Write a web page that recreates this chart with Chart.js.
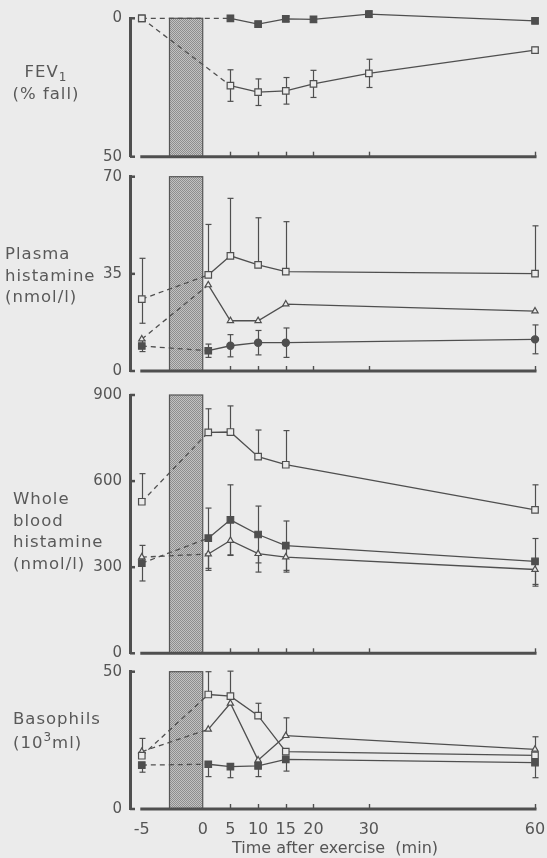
<!DOCTYPE html>
<html>
<head>
<meta charset="utf-8">
<script src="https://cdn.jsdelivr.net/npm/chart.js@4.4.1/dist/chart.umd.min.js"></script>
<style>
html, body { margin: 0; padding: 0; background: #ebebeb; }
#wrap { position: relative; width: 547px; height: 858px; overflow: hidden; background: #ebebeb; }
canvas { position: absolute; left: 0; }
.lab { position: absolute; font-family: "DejaVu Sans", sans-serif; font-size: 16.5px; color: #595959;
       line-height: 21.5px; letter-spacing: 1px; white-space: nowrap; }
.lab sub { font-size: 12px; vertical-align: -4px; line-height: 0; }
.lab sup { font-size: 12px; vertical-align: 7px; line-height: 0; }
</style>
</head>
<body>
<div id="wrap">
  <canvas id="c1" width="547" height="172" style="top:0px"></canvas>
  <canvas id="c2" width="547" height="220" style="top:164px"></canvas>
  <canvas id="c3" width="547" height="282" style="top:384px"></canvas>
  <canvas id="c4" width="547" height="198" style="top:660px"></canvas>
  <div class="lab" style="left:8px;top:61px;width:76px;text-align:center">FEV<sub>1</sub><br>(% fall)</div>
  <div class="lab" style="left:5px;top:243px">Plasma<br>histamine<br>(nmol/l)</div>
  <div class="lab" style="left:13px;top:488px">Whole<br>blood<br>histamine<br>(nmol/l)</div>
  <div class="lab" style="left:13px;top:707px;line-height:24px">Basophils<br>(10<sup>3</sup>ml)</div>
</div>
<script>
// ---------- data ----------
// times in minutes after the end of exercise; "-5" is 5 min before the (6 min) exercise began
const tickTimes   = [-5, 0, 5, 10, 15, 20, 30, 60];
const tickLabels  = ['-5', '0', '5', '10', '15', '20', '30', '60'];
const exerciseLength = 6;           // shaded exercise period (min)
const fevTimes    = [-5, 5, 10, 15, 20, 30, 60];
const sampleTimes = [-5, 1, 5, 10, 15, 60];

// FEV1 (% fall)
const fevFilled     = [0, 0, 2.1, 0.2, 0.4, -1.5, 0.9];
const fevFilledErr  = [0.6, 1, 1, 1, 1, 1.2, 1];
const fevOpen       = [0, 24.3, 26.7, 26.2, 23.7, 19.9, 11.5];
const fevOpenErr    = [0, 5.7, 4.8, 4.8, 4.9, 5.1, 1];

// Plasma histamine (nmol/l)
const plOpen        = [25.9, 34.6, 41.5, 38.2, 35.8, 35.1];
const plOpenUp      = [14.7, 18.2, 20.7, 17.0, 18.0, 17.2];
const plOpenDown    = [8.7, 0, 0, 0, 0, 0];
const plTri         = [11.5, 31.0, 18.1, 18.1, 24.1, 21.6];
const plFilled      = [9.0, 7.3, 9.1, 10.2, 10.2, 11.4];
const plFilledErr   = [2.0, 2.4, 4.0, 4.4, 5.3, 5.2];

// Whole blood histamine (nmol/l)
const wbOpen        = [528, 770, 771, 685, 657, 500];
const wbOpenUp      = [98, 82, 91, 93, 119, 87];
const wbFilled      = [314, 401, 465, 414, 375, 320];
const wbFilledErr   = [62, 105, 122, 99, 86, 80];
const wbTri         = [335, 346, 393, 347, 335, 292];
const wbTriDown     = [0, 57, 52, 64, 52, 58];

// Basophils (10^3/ml)
const baOpen        = [19.4, 41.7, 41.1, 34.0, 20.9, 19.5];
const baOpenUp      = [0, 8.3, 9.1, 4.5, 0, 0];
const baTri         = [20.9, 29.0, 38.5, 17.8, 26.7, 21.7];
const baTriUp       = [4.8, 0, 0, 0, 6.5, 4.6];
const baFilled      = [16.0, 16.3, 15.4, 15.7, 18.1, 16.9];
const baFilledDown  = [2.6, 4.5, 4.0, 3.9, 4.3, 5.5];

// ---------- helpers ----------
// broken time axis: the pre-exercise sample sits before the exercise block
const axisPos = t => (t < 0 ? t - exerciseLength : t);
const INK = '#4f4f4f';
const BG = '#ebebeb';
const FONT = '"DejaVu Sans", sans-serif';
const X_MIN = -13.13, X_MAX = 60.9;

function pts(times, vals) { return times.map((t, i) => ({ x: axisPos(t), y: vals[i] })); }

function makePattern(ctx) {
  const c = document.createElement('canvas');
  c.width = 2; c.height = 2;
  const p = c.getContext('2d');
  p.fillStyle = '#c2c2c2'; p.fillRect(0, 0, 2, 2);
  p.fillStyle = '#8e8e8e'; p.fillRect(0, 0, 1, 1); p.fillRect(1, 1, 1, 1);
  return ctx.createPattern(c, 'repeat');
}

function series(times, vals, style, opts) {
  opts = opts || {};
  const filled = style === 'filled';
  return Object.assign({
    data: pts(times, vals),
    borderColor: INK,
    borderWidth: 1.3,
    pointStyle: style === 'tri' ? 'triangle' : 'rect',
    pointRadius: style === 'tri' ? 3.6 : 4.6,
    pointBackgroundColor: filled ? INK : BG,
    pointBorderColor: INK,
    pointBorderWidth: 1.2,
    tension: 0,
    clip: false,
    segment: { borderDash: c => (c.p0DataIndex === 0 ? [5, 4] : undefined) },
    errUp: null, errDown: null
  }, opts);
}

const decor = {
  id: 'decor',
  beforeDatasetsDraw(chart) {
    const { ctx, chartArea } = chart;
    const x = chart.scales.x, y = chart.scales.y;
    const yTop = Math.min(y.getPixelForValue(y.min), y.getPixelForValue(y.max));
    const yBot = Math.max(y.getPixelForValue(y.min), y.getPixelForValue(y.max));
    ctx.save();
    // exercise block
    const x0 = x.getPixelForValue(-exerciseLength), x1 = x.getPixelForValue(0);
    ctx.fillStyle = makePattern(ctx);
    ctx.fillRect(x0, yTop, x1 - x0, yBot - yTop);
    ctx.strokeStyle = '#555'; ctx.lineWidth = 1.2;
    ctx.strokeRect(x0, yTop, x1 - x0, yBot - yTop);
    // x axis line
    ctx.strokeStyle = INK; ctx.lineWidth = 3;
    ctx.beginPath();
    ctx.moveTo(x.getPixelForValue(axisPos(-5)) - 1.5, yBot);
    ctx.lineTo(x.getPixelForValue(60) + 1.5, yBot);
    ctx.stroke();
    // x tick marks (upward)
    ctx.lineWidth = 1.4;
    tickTimes.forEach(t => {
      if (t <= 0) return;
      const px = Math.round(x.getPixelForValue(axisPos(t))) + 0.5;
      ctx.beginPath(); ctx.moveTo(px, yBot); ctx.lineTo(px, yBot - 5); ctx.stroke();
    });
    // y inward ticks
    ctx.lineWidth = 2.5;
    const ax = chartArea.left;
    y.ticks.forEach(tk => {
      const py = y.getPixelForValue(tk.value);
      ctx.beginPath(); ctx.moveTo(ax, py); ctx.lineTo(ax + 5, py); ctx.stroke();
    });
    // error bars
    ctx.lineWidth = 1.2; ctx.strokeStyle = INK;
    chart.data.datasets.forEach((ds, di) => {
      const meta = chart.getDatasetMeta(di);
      meta.data.forEach((pt, i) => {
        const v = ds.data[i].y;
        const up = ds.errUp ? ds.errUp[i] : 0;
        const dn = ds.errDown ? ds.errDown[i] : 0;
        if (!up && !dn) return;
        const px = Math.round(pt.x) + 0.5;
        const pTop = y.getPixelForValue(v + up), pBot = y.getPixelForValue(v - dn);
        ctx.beginPath(); ctx.moveTo(px, pTop); ctx.lineTo(px, pBot); ctx.stroke();
        if (up) { ctx.beginPath(); ctx.moveTo(px - 3, pTop); ctx.lineTo(px + 3, pTop); ctx.stroke(); }
        if (dn) { ctx.beginPath(); ctx.moveTo(px - 3, pBot); ctx.lineTo(px + 3, pBot); ctx.stroke(); }
      });
    });
    ctx.restore();
  }
};

function makeChart(id, datasets, yOpt, pad, bottomAxis) {
  const yTicks = yOpt.ticks;
  const xScale = {
    type: 'linear', min: X_MIN, max: X_MAX, display: !!bottomAxis,
    border: { display: false },
    grid: { display: false, drawTicks: false },
    afterBuildTicks: s => { s.ticks = tickTimes.map(t => ({ value: axisPos(t) })); },
    ticks: {
      autoSkip: false, maxRotation: 0, padding: 11, color: '#555',
      font: { family: FONT, size: 16 },
      callback: v => { const i = tickTimes.findIndex(t => Math.abs(axisPos(t) - v) < 1e-6); return i >= 0 ? tickLabels[i] : ''; }
    },
    title: { display: !!bottomAxis, text: 'Time after exercise  (min)', color: '#555',
             font: { family: FONT, size: 16 }, padding: { top: 0, bottom: 0 } },
    afterFit: s => { if (bottomAxis) s.height = bottomAxis; s.paddingLeft = 0; s.paddingRight = 0; }
  };
  return new Chart(document.getElementById(id), {
    type: 'line',
    data: { datasets },
    options: {
      responsive: false, animation: false, events: [],
      layout: { padding: { left: 0, right: 7, top: pad[0], bottom: pad[1] } },
      plugins: { legend: { display: false }, tooltip: { enabled: false } },
      scales: {
        x: xScale,
        y: {
          type: 'linear', min: yOpt.min, max: yOpt.max, reverse: !!yOpt.reverse,
          afterBuildTicks: s => { s.ticks = yTicks.map(v => ({ value: v })); },
          afterFit: s => { s.width = 130; s.paddingTop = 0; s.paddingBottom = 0; },
          grid: { display: false, drawTicks: false },
          border: { display: true, width: 3, color: INK },
          ticks: { padding: 8, color: '#555', font: { family: FONT, size: 15 } }
        }
      }
    },
    plugins: [decor]
  });
}

// Panel 1: FEV1
makeChart('c1', [
  series(fevTimes, fevOpen, 'open', { errUp: fevOpenErr, errDown: fevOpenErr }),
  series(fevTimes, fevFilled, 'filled', { errUp: fevFilledErr, errDown: fevFilledErr })
], { min: 0, max: 50, reverse: true, ticks: [0, 50] }, [18.3, 15.3], 0);

// Panel 2: plasma histamine
makeChart('c2', [
  series(sampleTimes, plOpen, 'open', { errUp: plOpenUp, errDown: plOpenDown }),
  series(sampleTimes, plTri, 'tri'),
  series(sampleTimes, plFilled, 'filled', { errUp: plFilledErr, errDown: plFilledErr,
    pointStyle: ['rect', 'rect', 'circle', 'circle', 'circle', 'circle'],
    pointRadius: [4.6, 4.6, 3.6, 3.6, 3.6, 3.6] })
], { min: 0, max: 70, ticks: [0, 35, 70] }, [12.7, 13], 0);

// Panel 3: whole blood histamine
makeChart('c3', [
  series(sampleTimes, wbOpen, 'open', { errUp: wbOpenUp }),
  series(sampleTimes, wbTri, 'tri', { errDown: wbTriDown }),
  series(sampleTimes, wbFilled, 'filled', { errUp: wbFilledErr, errDown: wbFilledErr })
], { min: 0, max: 900, ticks: [0, 300, 600, 900] }, [11, 12.7], 0);

// Panel 4: basophils
makeChart('c4', [
  series(sampleTimes, baOpen, 'open', { errUp: baOpenUp }),
  series(sampleTimes, baTri, 'tri', { errUp: baTriUp }),
  series(sampleTimes, baFilled, 'filled', { errDown: baFilledDown })
], { min: 0, max: 50, ticks: [0, 50] }, [11.7, 0], 49);
</script>
</body>
</html>
